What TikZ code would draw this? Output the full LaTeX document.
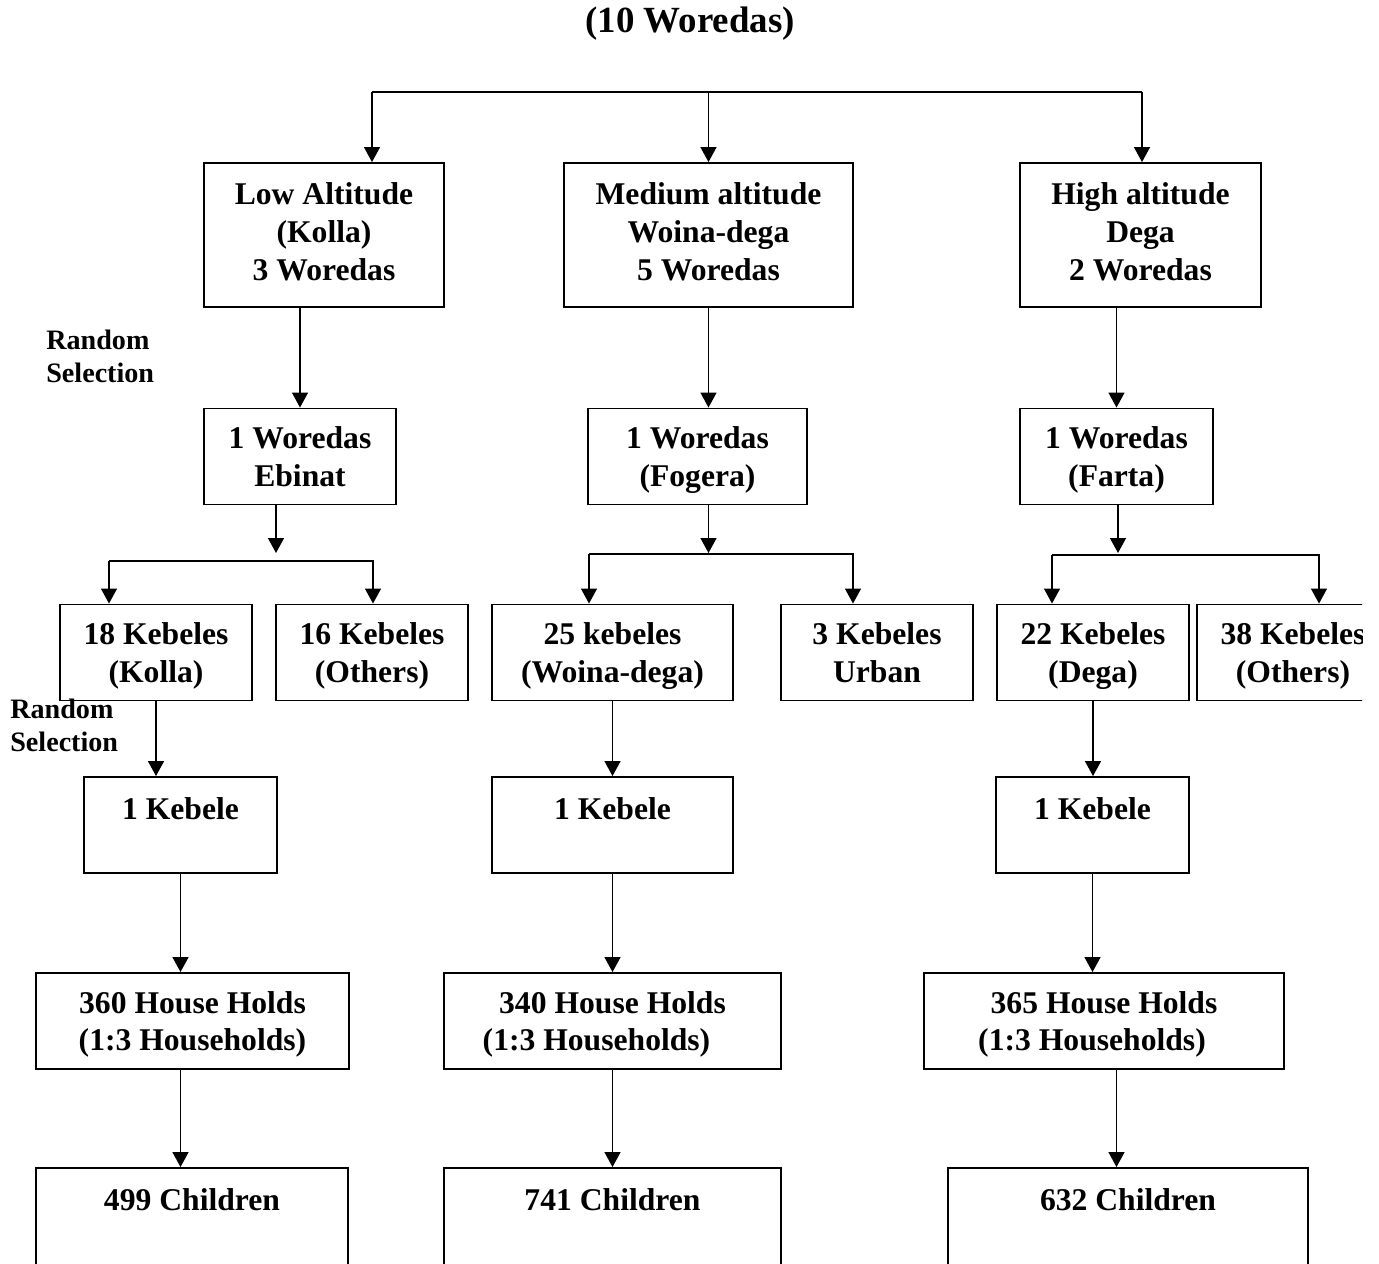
\documentclass[tikz,border=0pt]{standalone}
\usepackage{fontspec}
\setmainfont{Liberation Serif}
\usetikzlibrary{arrows.meta}

\begin{document}
\begin{tikzpicture}[
  x=0.02cm, y=-0.02cm,
  every node/.style={font=\fontsize{18}{21.6}\selectfont\bfseries, align=center},
  box/.style={draw, line width=1.1pt, inner sep=0pt, minimum height=1.92cm, text depth=0pt},
  topbox/.style={box, text height=12pt, text depth=18.5pt},
  endbox/.style={box, minimum height=2.2cm, text height=12pt, text depth=26pt},
  note/.style={font=\fontsize{16}{18.8}\selectfont\bfseries, align=left, anchor=west, inner sep=0pt},
  arr/.style={draw, line width=0.8pt, -{Triangle[width=0.32cm, length=0.3cm]}}
]
\useasboundingbox (0,0) rectangle (1379,1264);
\clip (0,0) rectangle (1362,1264);

\node[font=\fontsize{21}{25}\selectfont\bfseries] (title) at (690,24) {(10 Woredas)};

\node[box, minimum width=4.8cm, minimum height=2.88cm, text depth=4pt] (low) at (324,235) {Low Altitude\\(Kolla)\\3 Woredas};
\node[box, minimum width=5.78cm, minimum height=2.88cm, text depth=4pt] (med) at (708.5,235) {Medium altitude\\Woina-dega\\5 Woredas};
\node[box, minimum width=4.82cm, minimum height=2.88cm, text depth=4pt] (high) at (1140.5,235) {High altitude\\Dega\\2 Woredas};

\node[note] (randA) at (46,356) {Random\\Selection};

\node[box, minimum width=3.84cm] (ebinat) at (300,456.5) {1 Woredas\\Ebinat};
\node[box, minimum width=4.38cm] (fogera) at (697.5,456.5) {1 Woredas\\(Fogera)};
\node[box, minimum width=3.86cm] (farta) at (1116.5,456.5) {1 Woredas\\(Farta)};

\node[box, minimum width=3.84cm] (kolla) at (156,652.5) {18 Kebeles\\(Kolla)};
\node[box, minimum width=3.84cm] (othersA) at (372,652.5) {16 Kebeles\\(Others)};
\node[box, minimum width=4.82cm] (woina) at (612.5,652.5) {25 kebeles\\(Woina-dega)};
\node[box, minimum width=3.84cm] (urban) at (877,652.5) {3 Kebeles\\Urban};
\node[box, minimum width=3.84cm] (dega) at (1093,652.5) {22 Kebeles\\(Dega)};
\node[box, minimum width=3.84cm] (othersB) at (1293,652.5) {38 Kebeles\\(Others)};

\node[note] (randB) at (10,725) {Random\\Selection};

\node[topbox, minimum width=3.86cm] (kebA) at (180.5,825) {1 Kebele};
\node[topbox, minimum width=4.82cm] (kebB) at (612.5,825) {1 Kebele};
\node[topbox, minimum width=3.86cm] (kebC) at (1092.5,825) {1 Kebele};

\node[box, minimum width=6.26cm] (hhA) at (192.5,1021) {360 House Holds\\(1:3 Households)};
\node[box, minimum width=6.74cm] (hhB) at (612.5,1021) {340 House Holds\\(1:3 Households)\rule{0.64cm}{0pt}};
\node[box, minimum width=7.2cm] (hhC) at (1104,1021) {365 House Holds\\(1:3 Households)\rule{0.48cm}{0pt}};

\node[endbox, minimum width=6.24cm] (chA) at (192,1223) {499 Children};
\node[endbox, minimum width=6.74cm] (chB) at (612.5,1223) {741 Children};
\node[endbox, minimum width=7.2cm] (chC) at (1128,1223) {632 Children};

\coordinate (t1) at (372,92);
\coordinate (t2) at (708.5,92);
\coordinate (t3) at (1142,92);
\draw[line width=0.8pt] (t1) -- (t3);
\draw[arr] (t1) -- (t1 |- low.north);
\draw[arr] (t2) -- (t2 |- med.north);
\draw[arr] (t3) -- (t3 |- high.north);

\draw[arr] (low.south -| ebinat) -- (ebinat);
\draw[arr] (med.south) -- (med.south |- fogera.north);
\draw[arr] (high.south -| farta) -- (farta);

\coordinate (sA) at (276,553);
\coordinate (sAl) at (109,561);
\coordinate (sAr) at (373,561);
\draw[arr] (sA |- ebinat.south) -- (sA);
\draw[arr] (sAl) -- (sAl |- kolla.north);
\draw[arr] (sAl) -- (sAr) -- (sAr |- othersA.north);

\coordinate (sB) at (708.5,553);
\coordinate (sBl) at (589,554);
\coordinate (sBr) at (853,554);
\draw[arr] (sB |- fogera.south) -- (sB);
\draw[arr] (sBl) -- (sBl |- woina.north);
\draw[arr] (sBl) -- (sBr) -- (sBr |- urban.north);

\coordinate (sC) at (1118,553);
\coordinate (sCl) at (1052,555);
\coordinate (sCr) at (1319,555);
\draw[arr] (sC |- farta.south) -- (sC);
\draw[arr] (sCl) -- (sCl |- dega.north);
\draw[arr] (sCl) -- (sCr) -- (sCr |- othersB.north);

\draw[arr] (kolla.south) -- (kolla.south |- kebA.north);
\draw[arr] (woina) -- (kebB);
\draw[arr] (dega.south) -- (dega.south |- kebC.north);

\draw[arr] (kebA) -- (kebA |- hhA.north);
\draw[arr] (kebB) -- (hhB);
\draw[arr] (kebC) -- (kebC |- hhC.north);

\draw[arr] (kebA |- hhA.south) -- (kebA |- chA.north);
\draw[arr] (hhB) -- (chB);
\draw[arr] (farta |- hhC.south) -- (farta |- chC.north);
\end{tikzpicture}
\end{document}
